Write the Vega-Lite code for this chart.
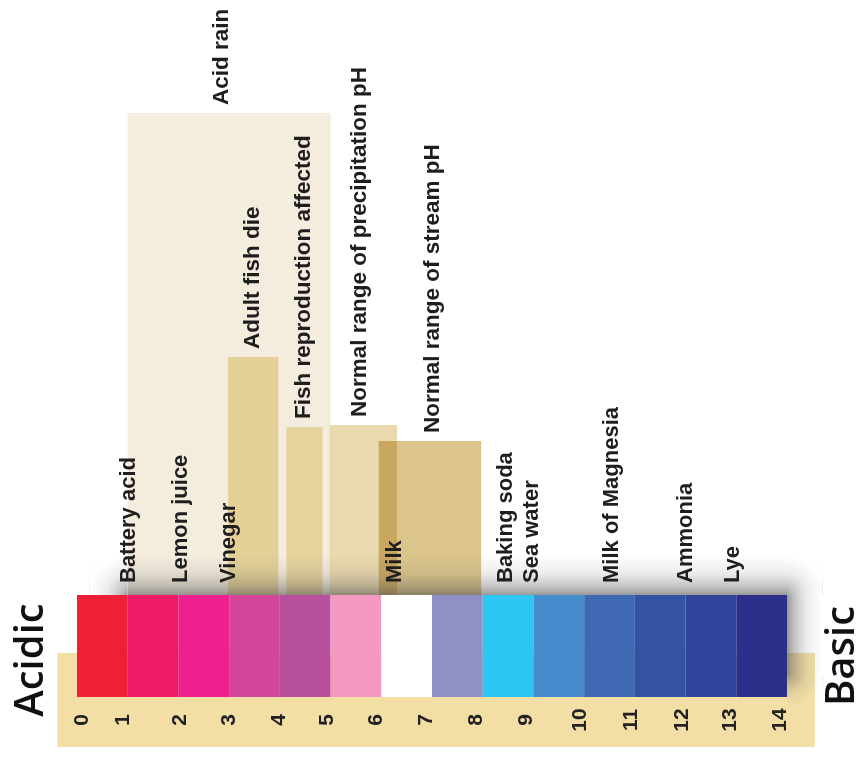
{
  "$schema": "https://vega.github.io/schema/vega-lite/v6.json",
  "width": 867,
  "height": 759,
  "autosize": "none",
  "padding": 0,
  "background": "white",
  "config": {"view": {"stroke": null}},
  "resolve": {"scale": {"color": "independent"}},
  "datasets": {
    "cells": [
      {"ph": 0, "ph_end": 1}, {"ph": 1, "ph_end": 2}, {"ph": 2, "ph_end": 3}, {"ph": 3, "ph_end": 4},
      {"ph": 4, "ph_end": 5}, {"ph": 5, "ph_end": 6}, {"ph": 6, "ph_end": 7}, {"ph": 7, "ph_end": 8},
      {"ph": 8, "ph_end": 9}, {"ph": 9, "ph_end": 10}, {"ph": 10, "ph_end": 11}, {"ph": 11, "ph_end": 12},
      {"ph": 12, "ph_end": 13}, {"ph": 13, "ph_end": 14}
    ],
    "ranges": [
      {"effect": "Acid rain", "ph_low": 1.0, "ph_high": 5.0, "height": 482, "label_ph": 2.84},
      {"effect": "Adult fish die", "ph_low": 2.98, "ph_high": 3.97, "height": 238, "label_ph": 3.45},
      {"effect": "Fish reproduction affected", "ph_low": 4.13, "ph_high": 4.84, "height": 168, "label_ph": 4.45},
      {"effect": "Normal range of precipitation pH", "ph_low": 4.98, "ph_high": 6.31, "height": 170, "label_ph": 5.57},
      {"effect": "Normal range of stream pH", "ph_low": 5.95, "ph_high": 7.97, "height": 154, "label_ph": 7.0}
    ],
    "substances": [
      {"substance": "Battery acid", "ph": 1.0},
      {"substance": "Lemon juice", "ph": 2.03},
      {"substance": "Vinegar", "ph": 2.98},
      {"substance": "Milk", "ph": 6.25},
      {"substance": "Baking soda", "ph": 8.44},
      {"substance": "Sea water", "ph": 8.95},
      {"substance": "Milk of Magnesia", "ph": 10.52},
      {"substance": "Ammonia", "ph": 11.99},
      {"substance": "Lye", "ph": 12.92}
    ],
    "ticks": [
      {"label": "0", "at": 0.1}, {"label": "1", "at": 0.9}, {"label": "2", "at": 2.03},
      {"label": "3", "at": 3.0}, {"label": "4", "at": 3.98}, {"label": "5", "at": 4.93},
      {"label": "6", "at": 5.9}, {"label": "7", "at": 6.88}, {"label": "8", "at": 7.87},
      {"label": "9", "at": 8.86}, {"label": "10", "at": 9.92}, {"label": "11", "at": 10.92},
      {"label": "12", "at": 11.93}, {"label": "13", "at": 12.88}, {"label": "14", "at": 13.86}
    ],
    "ends": [
      {"side": "Acidic", "ph": -0.67, "level": -65},
      {"side": "Basic", "ph": 15.33, "level": -61}
    ]
  },
  "layer": [
    {
      "data": {"values": [{"part": "scale base", "left": -0.39, "right": 14.55, "top": -58, "bottom": -152}]},
      "mark": {"type": "rect", "color": "#F3DFA6"},
      "encoding": {
        "x": {"field": "left", "type": "quantitative", "scale": {"domain": [-1.518, 15.577], "nice": false, "zero": false}, "axis": null},
        "x2": {"field": "right"},
        "y": {"field": "top", "type": "quantitative", "scale": {"domain": [-164, 595], "nice": false, "zero": false}, "axis": null},
        "y2": {"field": "bottom"}
      }
    },
    {
      "data": {"name": "ranges"},
      "transform": [{"filter": "datum.effect != 'Normal range of stream pH'"}],
      "mark": {"type": "rect"},
      "encoding": {
        "x": {"field": "ph_low", "type": "quantitative", "scale": {"domain": [-1.518, 15.577], "nice": false, "zero": false}, "axis": null},
        "x2": {"field": "ph_high"},
        "y": {"field": "height", "type": "quantitative", "scale": {"domain": [-164, 595], "nice": false, "zero": false}, "axis": null},
        "y2": {"datum": 0},
        "color": {
          "field": "effect", "type": "nominal", "legend": null,
          "scale": {
            "domain": ["Acid rain", "Adult fish die", "Fish reproduction affected", "Normal range of precipitation pH", "Normal range of stream pH"],
            "range": ["#F4ECDD", "#E4D096", "#E5D29C", "#EAD9AE", "#DCC58B"]
          }
        }
      }
    },
    {
      "data": {"name": "ranges"},
      "transform": [{"filter": "datum.effect == 'Normal range of stream pH'"}],
      "mark": {"type": "rect", "blend": "multiply"},
      "encoding": {
        "x": {"field": "ph_low", "type": "quantitative", "scale": {"domain": [-1.518, 15.577], "nice": false, "zero": false}, "axis": null},
        "x2": {"field": "ph_high"},
        "y": {"field": "height", "type": "quantitative", "scale": {"domain": [-164, 595], "nice": false, "zero": false}, "axis": null},
        "y2": {"datum": 0},
        "color": {
          "field": "effect", "type": "nominal", "legend": null,
          "scale": {
            "domain": ["Acid rain", "Adult fish die", "Fish reproduction affected", "Normal range of precipitation pH", "Normal range of stream pH"],
            "range": ["#F4ECDD", "#E4D096", "#E5D29C", "#EAD9AE", "#DCC58B"]
          }
        }
      }
    },
    {
      "data": {"values": [{"part": "shadow above", "left": 1.0, "right": 14.0, "top": 40, "bottom": 0}]},
      "mark": {
        "type": "rect",
        "fill": {"gradient": "linear", "x1": 0, "y1": 0, "x2": 0, "y2": 1,
          "stops": [{"offset": 0, "color": "rgba(110,110,110,0)"}, {"offset": 0.45, "color": "rgba(100,100,100,0.12)"}, {"offset": 0.8, "color": "rgba(80,80,80,0.35)"}, {"offset": 1, "color": "rgba(70,70,70,0.55)"}]}
      },
      "encoding": {
        "x": {"field": "left", "type": "quantitative", "scale": {"domain": [-1.518, 15.577], "nice": false, "zero": false}, "axis": null},
        "x2": {"field": "right"},
        "y": {"field": "top", "type": "quantitative", "scale": {"domain": [-164, 595], "nice": false, "zero": false}, "axis": null},
        "y2": {"field": "bottom"}
      }
    },
    {
      "data": {"values": [{"part": "shadow corner left", "left": 0.25, "right": 1.0, "top": 40, "bottom": 0}]},
      "mark": {
        "type": "rect",
        "fill": {"gradient": "radial", "x1": 1, "y1": 1, "r1": 0, "x2": 1, "y2": 1, "r2": 1,
          "stops": [{"offset": 0, "color": "rgba(70,70,70,0.55)"}, {"offset": 0.2, "color": "rgba(80,80,80,0.35)"}, {"offset": 0.55, "color": "rgba(100,100,100,0.12)"}, {"offset": 0.98, "color": "rgba(110,110,110,0)"}]}
      },
      "encoding": {
        "x": {"field": "left", "type": "quantitative", "scale": {"domain": [-1.518, 15.577], "nice": false, "zero": false}, "axis": null},
        "x2": {"field": "right"},
        "y": {"field": "top", "type": "quantitative", "scale": {"domain": [-164, 595], "nice": false, "zero": false}, "axis": null},
        "y2": {"field": "bottom"}
      }
    },
    {
      "data": {"values": [{"part": "shadow corner right", "left": 14.0, "right": 14.7, "top": 40, "bottom": 0}]},
      "mark": {
        "type": "rect",
        "fill": {"gradient": "radial", "x1": 0, "y1": 1, "r1": 0, "x2": 0, "y2": 1, "r2": 1,
          "stops": [{"offset": 0, "color": "rgba(70,70,70,0.55)"}, {"offset": 0.2, "color": "rgba(80,80,80,0.35)"}, {"offset": 0.55, "color": "rgba(100,100,100,0.12)"}, {"offset": 0.98, "color": "rgba(110,110,110,0)"}]}
      },
      "encoding": {
        "x": {"field": "left", "type": "quantitative", "scale": {"domain": [-1.518, 15.577], "nice": false, "zero": false}, "axis": null},
        "x2": {"field": "right"},
        "y": {"field": "top", "type": "quantitative", "scale": {"domain": [-164, 595], "nice": false, "zero": false}, "axis": null},
        "y2": {"field": "bottom"}
      }
    },
    {
      "data": {"values": [{"part": "shadow right", "left": 14.0, "right": 14.7, "top": 0, "bottom": -80}]},
      "mark": {
        "type": "rect",
        "fill": {"gradient": "linear", "x1": 0, "y1": 0, "x2": 1, "y2": 0,
          "stops": [{"offset": 0, "color": "rgba(70,70,70,0.55)"}, {"offset": 0.2, "color": "rgba(80,80,80,0.35)"}, {"offset": 0.55, "color": "rgba(100,100,100,0.12)"}, {"offset": 0.98, "color": "rgba(110,110,110,0)"}]}
      },
      "encoding": {
        "x": {"field": "left", "type": "quantitative", "scale": {"domain": [-1.518, 15.577], "nice": false, "zero": false}, "axis": null},
        "x2": {"field": "right"},
        "y": {"field": "top", "type": "quantitative", "scale": {"domain": [-164, 595], "nice": false, "zero": false}, "axis": null},
        "y2": {"field": "bottom"}
      }
    },
    {
      "data": {"values": [{"part": "shadow corner lower right", "left": 14.0, "right": 14.7, "top": -80, "bottom": -112}]},
      "mark": {
        "type": "rect",
        "fill": {"gradient": "radial", "x1": 0, "y1": 0, "r1": 0, "x2": 0, "y2": 0, "r2": 1,
          "stops": [{"offset": 0, "color": "rgba(70,70,70,0.55)"}, {"offset": 0.2, "color": "rgba(80,80,80,0.35)"}, {"offset": 0.55, "color": "rgba(100,100,100,0.12)"}, {"offset": 0.98, "color": "rgba(110,110,110,0)"}]}
      },
      "encoding": {
        "x": {"field": "left", "type": "quantitative", "scale": {"domain": [-1.518, 15.577], "nice": false, "zero": false}, "axis": null},
        "x2": {"field": "right"},
        "y": {"field": "top", "type": "quantitative", "scale": {"domain": [-164, 595], "nice": false, "zero": false}, "axis": null},
        "y2": {"field": "bottom"}
      }
    },
    {
      "data": {"name": "cells"},
      "mark": {"type": "rect"},
      "encoding": {
        "x": {"field": "ph", "type": "quantitative", "scale": {"domain": [-1.518, 15.577], "nice": false, "zero": false}, "axis": null},
        "x2": {"field": "ph_end"},
        "y": {"datum": 0, "type": "quantitative", "scale": {"domain": [-164, 595], "nice": false, "zero": false}, "axis": null},
        "y2": {"datum": -102},
        "color": {
          "field": "ph", "type": "ordinal", "legend": null,
          "scale": {
            "domain": [0, 1, 2, 3, 4, 5, 6, 7, 8, 9, 10, 11, 12, 13],
            "range": ["#EE2038", "#EE1A66", "#EE2090", "#D4449B", "#B9509E", "#F499C2", "#FFFFFF", "#9190C6", "#2DC5F1", "#468BCC", "#3F69B3", "#3452A3", "#31449B", "#2C308A"]
          }
        }
      }
    },
    {
      "data": {"name": "ticks"},
      "mark": {"type": "text", "angle": 270, "align": "center", "baseline": "middle", "font": "Liberation Sans", "fontWeight": "bold", "fontSize": 21, "color": "#222222"},
      "encoding": {
        "x": {"field": "at", "type": "quantitative", "scale": {"domain": [-1.518, 15.577], "nice": false, "zero": false}, "axis": null},
        "y": {"datum": -125, "type": "quantitative", "scale": {"domain": [-164, 595], "nice": false, "zero": false}, "axis": null},
        "text": {"field": "label"}
      }
    },
    {
      "data": {"name": "substances"},
      "mark": {"type": "text", "angle": 270, "align": "left", "baseline": "middle", "font": "Liberation Sans", "fontWeight": "bold", "fontSize": 22, "color": "#1E1E1E"},
      "encoding": {
        "x": {"field": "ph", "type": "quantitative", "scale": {"domain": [-1.518, 15.577], "nice": false, "zero": false}, "axis": null},
        "y": {"datum": 12, "type": "quantitative", "scale": {"domain": [-164, 595], "nice": false, "zero": false}, "axis": null},
        "text": {"field": "substance"}
      }
    },
    {
      "data": {"name": "ranges"},
      "mark": {"type": "text", "angle": 270, "align": "left", "baseline": "middle", "dx": 8, "font": "Liberation Sans", "fontWeight": "bold", "fontSize": 22.5, "color": "#1E1E1E"},
      "encoding": {
        "x": {"field": "label_ph", "type": "quantitative", "scale": {"domain": [-1.518, 15.577], "nice": false, "zero": false}, "axis": null},
        "y": {"field": "height", "type": "quantitative", "scale": {"domain": [-164, 595], "nice": false, "zero": false}, "axis": null},
        "text": {"field": "effect"}
      }
    },
    {
      "data": {"name": "ends"},
      "mark": {"type": "text", "angle": 270, "align": "center", "baseline": "alphabetic", "font": "Open Sans", "fontWeight": 600, "fontSize": 40, "color": "#111111"},
      "encoding": {
        "x": {"field": "ph", "type": "quantitative", "scale": {"domain": [-1.518, 15.577], "nice": false, "zero": false}, "axis": null},
        "y": {"field": "level", "type": "quantitative", "scale": {"domain": [-164, 595], "nice": false, "zero": false}, "axis": null},
        "text": {"field": "side"}
      }
    }
  ]
}
